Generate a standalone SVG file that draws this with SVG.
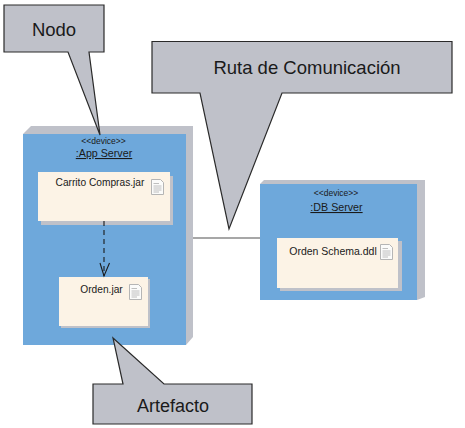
<svg xmlns="http://www.w3.org/2000/svg" width="465" height="428" viewBox="0 0 465 428">
<style>
text{font-family:"Liberation Sans",Arial,sans-serif;fill:#1a1a1a}
.call{fill:#bfc1c9;stroke:#2a2a2a;stroke-width:1.2;stroke-linejoin:miter}
.ct{font-size:18.5px;text-anchor:middle}
.back{fill:#bfc1c9}
.front{fill:#6ea8db}
.shadow{fill:#bfc1c9}
.art{fill:#fcf3e6}
.st{font-size:8.5px;text-anchor:middle}
.nm{font-size:10.700px;text-anchor:middle;text-decoration:underline}
.at{font-size:10.200px;text-anchor:middle}
.page{fill:#fbfbfa;stroke:#b5b5b5;stroke-width:1}
.ln{stroke:#b0b0b0;stroke-width:0.8;fill:none}
</style>
<defs>
<g id="doc">
<path class="page" d="M0.5 0.5H9.5L12.5 3.5V15.5H0.5Z"/>
<path class="ln" d="M2.5 4.5H8M2.5 7H10.5M2.5 9H10.5M2.5 11H10.5M2.5 13H8"/>
</g>
</defs>
<g id="connectors">
<path d="M193 238H260" stroke="#8a8a8a" stroke-width="1.500" fill="none"/>
</g>
<g id="node-app">
<path class="back" d="M23 134L31 126H193V337L186 345H23Z"/>
<rect class="front" x="23" y="134" width="163" height="211"/>
<text class="st" x="103.500" y="144">&lt;&lt;device&gt;&gt;</text>
<text class="nm" x="104" y="157">:App Server</text>
</g>
<g id="artifact-carrito">
<rect class="shadow" x="41" y="176" width="132" height="49"/>
<rect class="art" x="38" y="172" width="132" height="49"/>
<text class="at" x="100" y="186">Carrito Compras.jar</text>
<use href="#doc" x="151" y="179"/>
</g>
<g id="artifact-orden">
<rect class="shadow" x="61" y="279" width="89" height="49"/>
<rect class="art" x="59" y="277" width="89" height="49"/>
<text class="at" x="101.500" y="293">Orden.jar</text>
<use href="#doc" x="129" y="284"/>
</g>
<g id="dependency">
<path d="M104 221V276" stroke="#1a1a1a" stroke-width="1.100" stroke-dasharray="5 4" fill="none"/>
<path d="M100 263L104 276L109.500 263" stroke="#1a1a1a" stroke-width="1.100" fill="none"/>
</g>
<g id="node-db">
<path class="back" d="M260 184L264 180H425V297L417 300H260Z"/>
<rect class="front" x="260" y="184" width="157" height="116"/>
<text class="st" x="336" y="196">&lt;&lt;device&gt;&gt;</text>
<text class="nm" x="336.500" y="211">:DB Server</text>
</g>
<g id="artifact-schema">
<rect class="shadow" x="280" y="241" width="122" height="50"/>
<rect class="art" x="277" y="238" width="121" height="50"/>
<text class="at" x="333" y="255" style="font-size:10.500px">Orden Schema.ddl</text>
<use href="#doc" x="380" y="244"/>
</g>
<g id="callout-nodo">
<path class="call" d="M4 5H104V52H89L100 135L68 52H4Z"/>
<text class="ct" x="54" y="36">Nodo</text>
</g>
<g id="callout-ruta">
<path class="call" d="M152 41.500H452V93H282L229 229L200 93H152Z"/>
<text class="ct" x="307" y="74">Ruta de Comunicación</text>
</g>
<g id="callout-artefacto">
<path class="call" d="M93 384H123L113 338L164 384H252V424H93Z"/>
<text class="ct" x="173" y="412" style="font-size:18px">Artefacto</text>
</g>
</svg>
